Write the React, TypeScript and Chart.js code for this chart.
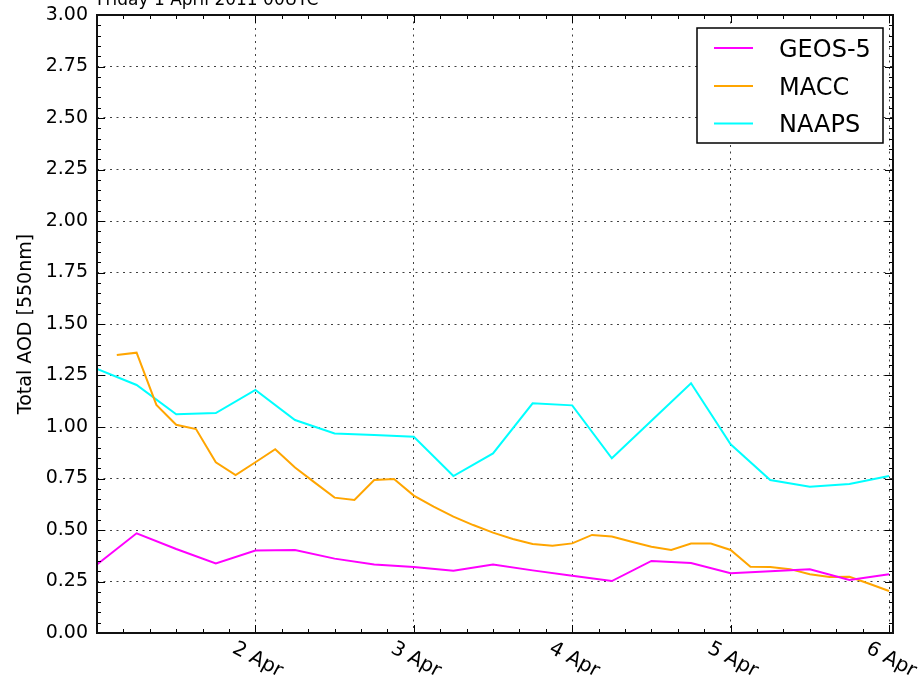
import React, { useEffect, useRef } from "react";
import { Chart, registerables } from "chart.js";

Chart.register(...registerables);

const TITLE = "Friday 1 April 2011 00UTC";
const Y_LABEL = "Total AOD [550nm]";
const SERIES_NAMES = ["GEOS-5", "MACC", "NAAPS"];
const SERIES_COLORS = ["#ff00ff", "#ffa500", "#00ffff"];

// x tick labels (hours since 1 Apr 00UTC)
const DAY_HOURS = [24, 48, 72, 96, 120];
const DAY_LABELS = ["2 Apr", "3 Apr", "4 Apr", "5 Apr", "6 Apr"];
const Y_TICKS = ["0.00", "0.25", "0.50", "0.75", "1.00", "1.25", "1.50", "1.75", "2.00", "2.25", "2.50", "2.75", "3.00"];

const GEOS_HOURS = [0, 6, 12, 18, 24, 30, 36, 42, 48, 54, 60, 66, 72, 78, 84, 90, 96, 102, 108, 114, 120];
const GEOS_VALUES = [0.333, 0.484, 0.408, 0.338, 0.4, 0.403, 0.361, 0.333, 0.32, 0.302, 0.333, 0.304, 0.278, 0.252, 0.35, 0.34, 0.29, 0.3, 0.309, 0.257, 0.285];

const MACC_HOURS = [3, 6, 9, 12, 15, 18, 21, 24, 27, 30, 33, 36, 39, 42, 45, 48, 51, 54, 57, 60, 63, 66, 69, 72, 75, 78, 81, 84, 87, 90, 93, 96, 99, 102, 105, 108, 111, 114, 117, 120];
const MACC_VALUES = [1.35, 1.361, 1.107, 1.011, 0.99, 0.829, 0.767, 0.829, 0.892, 0.803, 0.73, 0.657, 0.646, 0.743, 0.748, 0.667, 0.613, 0.565, 0.524, 0.487, 0.456, 0.432, 0.424, 0.435, 0.476, 0.468, 0.443, 0.419, 0.403, 0.434, 0.434, 0.403, 0.322, 0.32, 0.31, 0.285, 0.272, 0.273, 0.239, 0.204];

const NAAPS_HOURS = [0, 6, 12, 18, 24, 30, 36, 42, 48, 54, 60, 66, 72, 78, 84, 90, 96, 102, 108, 114, 120];
const NAAPS_VALUES = [1.282, 1.204, 1.062, 1.068, 1.18, 1.034, 0.969, 0.961, 0.953, 0.762, 0.872, 1.115, 1.105, 0.848, 1.03, 1.212, 0.916, 0.743, 0.71, 0.723, 0.762];

const FONT = "'DejaVu Sans', sans-serif";

const toPoints = (hs: number[], vs: number[]) => hs.map((h, i) => ({ x: h, y: vs[i] }));

const decor = {
  id: "decor",
  afterDraw(chart: any) {
    const { ctx, chartArea: a, scales } = chart;
    const xs = scales.x;
    const ys = scales.y;
    ctx.save();
    ctx.strokeStyle = "#000";
    ctx.lineWidth = 1;
    ctx.beginPath();
    // x ticks (minor every 4h, major every 24h), inward, bottom & top
    for (let h = 4; h <= 120; h += 4) {
      const px = Math.round(xs.getPixelForValue(h)) + 0.5;
      const len = h % 24 === 0 ? 8 : 4;
      ctx.moveTo(px, a.bottom);
      ctx.lineTo(px, a.bottom - len);
      ctx.moveTo(px, a.top);
      ctx.lineTo(px, a.top + len);
    }
    // y ticks (minor every 0.05, major every 0.25), inward, left & right
    for (let i = 1; i < 60; i++) {
      const v = i * 0.05;
      const py = Math.round(ys.getPixelForValue(v)) + 0.5;
      const len = i % 5 === 0 ? 8 : 4;
      ctx.moveTo(a.left, py);
      ctx.lineTo(a.left + len, py);
      ctx.moveTo(a.right, py);
      ctx.lineTo(a.right - len, py);
    }
    ctx.stroke();

    // frame
    ctx.lineWidth = 2;
    ctx.strokeStyle = "#111";
    ctx.strokeRect(a.left, a.top, a.right - a.left, a.bottom - a.top);

    // x tick labels rotated clockwise
    ctx.fillStyle = "#000";
    ctx.font = `20px ${FONT}`;
    ctx.textAlign = "center";
    ctx.textBaseline = "middle";
    DAY_HOURS.forEach((h, i) => {
      const px = xs.getPixelForValue(h);
      ctx.save();
      ctx.translate(px + 2, 660);
      ctx.rotate((28 * Math.PI) / 180);
      ctx.fillText(DAY_LABELS[i], 0, 0);
      ctx.restore();
    });

    // y axis title
    ctx.save();
    ctx.translate(26, (a.top + a.bottom) / 2);
    ctx.rotate(-Math.PI / 2);
    ctx.textAlign = "center";
    ctx.textBaseline = "middle";
    ctx.font = `19px ${FONT}`;
    ctx.fillText(Y_LABEL, 0, 0);
    ctx.restore();

    // title (cut at top)
    ctx.font = `17px ${FONT}`;
    ctx.textAlign = "left";
    ctx.textBaseline = "alphabetic";
    ctx.fillText(TITLE, 97, 5);

    // legend
    const lx = 697, ly = 28, lw = 186, lh = 115;
    ctx.fillStyle = "#fff";
    ctx.fillRect(lx, ly, lw, lh);
    ctx.lineWidth = 1.5;
    ctx.strokeStyle = "#000";
    ctx.strokeRect(lx, ly, lw, lh);
    const rows = [48, 86, 123.5];
    ctx.font = `24px ${FONT}`;
    ctx.textBaseline = "alphabetic";
    SERIES_NAMES.forEach((name, i) => {
      ctx.strokeStyle = SERIES_COLORS[i];
      ctx.lineWidth = 2;
      ctx.beginPath();
      ctx.moveTo(714, rows[i]);
      ctx.lineTo(753, rows[i]);
      ctx.stroke();
      ctx.fillStyle = "#000";
      ctx.fillText(name, 779, rows[i] + 8.8);
    });
    ctx.restore();
  },
};

export default function App() {
  const ref = useRef<HTMLCanvasElement | null>(null);
  useEffect(() => {
    if (!ref.current) return;
    const chart = new Chart(ref.current, {
      type: "line",
      data: {
        datasets: [
          { label: SERIES_NAMES[0], data: toPoints(GEOS_HOURS, GEOS_VALUES), borderColor: SERIES_COLORS[0], borderWidth: 2, pointRadius: 0, tension: 0, fill: false },
          { label: SERIES_NAMES[1], data: toPoints(MACC_HOURS, MACC_VALUES), borderColor: SERIES_COLORS[1], borderWidth: 2, pointRadius: 0, tension: 0, fill: false },
          { label: SERIES_NAMES[2], data: toPoints(NAAPS_HOURS, NAAPS_VALUES), borderColor: SERIES_COLORS[2], borderWidth: 2, pointRadius: 0, tension: 0, fill: false },
        ],
      },
      options: {
        responsive: false,
        animation: false,
        devicePixelRatio: 1,
        layout: { padding: { top: 15, right: 27, left: 0, bottom: 0 } },
        plugins: { legend: { display: false }, tooltip: { enabled: false }, title: { display: false } },
        scales: {
          x: {
            type: "linear",
            min: 0,
            max: 120.6,
            ticks: { display: false, stepSize: 24, includeBounds: false },
            grid: { color: "rgba(0,0,0,0.75)", lineWidth: 1, drawTicks: false },
            border: { display: false, dash: [2, 4.5] },
            afterFit: (s: any) => { s.height = 49; s.paddingLeft = 0; s.paddingRight = 0; },
          },
          y: {
            min: 0,
            max: 3,
            ticks: {
              stepSize: 0.25,
              padding: 9,
              color: "#000",
              font: { family: FONT, size: 19 },
              callback: (_v: any, i: number) => Y_TICKS[i],
            },
            grid: { color: "rgba(0,0,0,0.75)", lineWidth: 1, drawTicks: false },
            border: { display: false, dash: [2, 4.5] },
            afterFit: (s: any) => { s.width = 97; s.paddingTop = 0; s.paddingBottom = 0; },
          },
        },
      },
      plugins: [decor],
    });
    return () => chart.destroy();
  }, []);
  return (
    <div style={{ position: "fixed", left: 0, top: 0, width: 920, height: 682, background: "#fff" }}>
      <canvas ref={ref} width={920} height={682} style={{ width: 920, height: 682, display: "block" }} />
    </div>
  );
}
